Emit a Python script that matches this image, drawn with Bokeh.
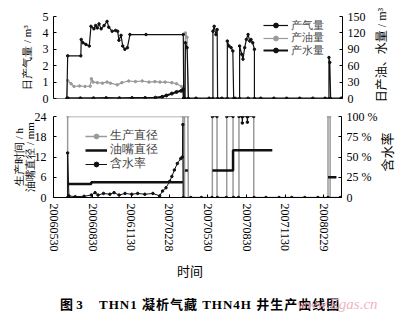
import pandas as pd
from bokeh.plotting import figure
from bokeh.layouts import column, row
from bokeh.models import (Range1d, LinearAxis, FixedTicker, Span, Legend, Div,
                          LegendItem, DatetimeTickFormatter, ColumnDataSource)
from bokeh.embed import file_html
from bokeh.resources import INLINE

NaN = float("nan")

# ---------------- data: top panel ----------------
gas_date = ["2006-06-30", "2006-07-02", "2006-08-02", "2006-08-03", "2006-08-07", "2006-08-14", "2006-08-22", "2006-08-26",
            "2006-09-02", "2006-09-06", "2006-09-10", "2006-09-14", "2006-09-19", "2006-09-26", "2006-10-03", "2006-10-07", "2006-10-15",
            "2006-10-23", "2006-10-28", "2006-10-31", "2006-11-05", "2006-11-09", "2006-11-14", "2006-11-20", "2006-11-26", "2007-01-03", "2007-04-01",
            "2007-04-02", "2007-04-05", "2007-04-06", "2007-04-10", "2007-04-13",
            "2007-06-10", "2007-06-10", "2007-06-13", "2007-06-17", "2007-06-20", "2007-06-21",
            "2007-07-14", "2007-07-14", "2007-07-18", "2007-07-23", "2007-07-27", "2007-07-29",
            "2007-08-12", "2007-08-12", "2007-08-17", "2007-08-20", "2007-08-24", "2007-08-28", "2007-09-01", "2007-09-05", "2007-09-08", "2007-09-12", "2007-09-16", "2007-09-16",
            "2008-03-10", "2008-03-10", "2008-03-12", "2008-03-14", "2008-04-08"]
gas_val = [0, 2.6, 2.6, 3.6, 3.4, 3.3, 3.2, 4.4,
           4.25, 4.45, 4.3, 4.55, 4.25, 4.45, 4.7, 4.35, 4.1,
           4.15, 4.1, 3.55, 3.85, 3.2, 3.0, 3.1, 3.9, 3.9, 3.9,
           0, 0, 3.4, 3.1, 0,
           0, 4.1, 4.4, 3.9, 4.2, 0,
           0, 3.5, 3.2, 3.1, 2.9, 0,
           0, 3.2, 2.7, 2.4, 3.1, 3.6, 3.9, 3.5, 3.6, 3.4, 3.0, 0,
           0, 2.5, 2.2, 0, 0]

oil_date = ["2006-06-30", "2006-07-02", "2006-07-10", "2006-07-17", "2006-07-30", "2006-08-12", "2006-08-24", "2006-08-27", "2006-08-31",
            "2006-09-10", "2006-09-22", "2006-10-03", "2006-10-11", "2006-10-27", "2006-11-07", "2006-11-23", "2006-12-09", "2006-12-25",
            "2007-01-10", "2007-01-24", "2007-02-05", "2007-02-17", "2007-03-05", "2007-03-16", "2007-03-28", "2007-04-01", "2007-04-02",
            "2007-04-05", "2007-04-06", "2007-04-10", "2007-04-13"]
oil_val = [0, 33, 27, 22, 23, 22, 22.5, 36, 30,
           29, 28, 30, 28, 25, 29, 32, 31, 32,
           30, 31, 30, 30, 29, 27, 22, 20, 0,
           0, 120, 112, 0]

water_date = ["2006-07-02", "2006-08-01", "2006-09-01", "2006-10-01", "2006-11-01", "2006-12-01", "2007-01-01", "2007-01-25",
              "2007-02-10", "2007-02-20", "2007-03-05", "2007-03-16", "2007-03-27", "2007-04-01", "2007-04-02",
              "2007-05-01", "2007-06-01", "2007-07-01", "2007-08-01", "2007-09-01", "2007-10-01", "2007-11-01",
              "2007-12-01", "2008-01-01", "2008-02-01", "2008-03-01", "2008-04-08"]
water_val = [0.5, 0.3, 0.5, 0.8, 0.6, 0.8, 1.0, 1.5,
             3, 5.5, 9, 12, 14, 17, 0,
             0, 0, 0, 0, 0, 0, 0,
             0, 0, 0, 0, 0]

# ---------------- data: bottom panel ----------------
ptime_date = ["2006-07-02", "2006-07-02", "2007-04-01", "2007-04-02", "2007-04-05", "2007-04-05", "2007-04-13", "2007-04-14",
              "2007-06-10", "2007-06-10", "2007-06-21", "2007-06-21", "2007-07-14", "2007-07-14", "2007-07-29", "2007-07-29",
              "2007-08-12", "2007-08-12", "2007-09-16", "2007-09-16", "2008-03-10", "2008-03-10", "2008-03-15", "2008-03-15", "2008-04-08"]
ptime_val = [0, 24, 24, 0, 0, 24, 24, 0,
             0, 24, 24, 0, 0, 24, 24, 0,
             0, 24, 24, 0, 0, 24, 24, 0, 0]

choke_date = ["2006-07-02", "2006-08-27", "2006-08-27", "2007-04-01", "2007-04-02",
              "2007-04-06", "2007-04-13", "2007-04-14",
              "2007-06-10", "2007-07-29", "2007-07-29", "2007-10-30", "2007-10-31",
              "2008-03-10", "2008-03-30"]
choke_val = [4, 4, 4.5, 4.5, NaN,
             8, 8, NaN,
             8, 8, 14, 14, NaN,
             6, 6]

wcut_date = ["2006-07-02", "2006-07-02", "2006-07-05", "2006-07-20", "2006-08-10", "2006-08-27", "2006-09-05", "2006-09-12", "2006-09-25",
             "2006-10-10", "2006-10-20", "2006-11-01", "2006-11-15", "2006-12-01", "2006-12-15", "2007-01-01", "2007-01-20",
             "2007-02-05", "2007-02-12", "2007-02-20", "2007-03-01", "2007-03-06", "2007-03-12", "2007-03-19", "2007-03-27",
             "2007-03-31", "2007-04-01", "2007-04-02", "2007-04-20", "2007-05-15", "2007-06-09",
             "2007-06-10", "2007-06-10", "2007-06-21",
             "2007-06-22", "2007-06-22", "2007-07-13",
             "2007-07-14", "2007-07-14", "2007-07-29",
             "2007-07-30", "2007-07-30", "2007-08-11",
             "2007-08-12", "2007-08-12", "2007-08-19", "2007-08-20", "2007-08-21", "2007-08-31", "2007-09-01", "2007-09-02", "2007-09-16",
             "2007-09-17", "2007-09-17", "2007-10-15", "2007-11-15", "2007-12-15", "2008-01-15", "2008-02-15", "2008-03-10", "2008-04-08"]
wcut_val = [0, 55, 2, 1, 1.5, 3, 6, 3, 5,
            4, 6, 3, 5, 4, 5, 4, 5,
            2, 8, 12, 20, 26, 34, 42, 48,
            50, 90, 0, 0, 0, 0,
            NaN, 100, 100,
            NaN, 0, 0,
            NaN, 100, 100,
            NaN, 0, 0,
            NaN, 100, 100, 92, 100, 100, 93, 100, 100,
            NaN, 0, 0, 0, 0, 0, 0, 0, 0]

x_tick_dates = ["2006-05-30", "2006-08-30", "2006-11-30", "2007-02-28",
                "2007-05-30", "2007-08-30", "2007-11-30", "2008-02-29"]
left_top_ticks = [0, 1, 2, 3, 4, 5]
right_top_ticks = [0, 30, 60, 90, 120, 150]
left_bot_ticks = [0, 6, 12, 18, 24]
right_bot_ticks = [0, 25, 50, 75, 100]
right_bot_labels = ["0", "25 %", "50 %", "75 %", "100 %"]

# ---------------- helpers ----------------
NUM = "Liberation Serif"
SERIF_CJK = "'Liberation Serif','Noto Sans CJK SC',serif"
GRAY = "#9a9a9a"
BLACK = "#111111"
X0 = pd.Timestamp("2006-05-29 12:00")
X1 = pd.Timestamp("2008-04-11")
FL, FR = 53, 342


def ms(t):
    return pd.Timestamp(t).value / 1e6


def style_axis(ax, label=None, standoff=5, size="12px", line_height=None, tick_standoff=4):
    ax.axis_line_color = "black"
    ax.axis_line_width = 1
    ax.major_tick_in = 3
    ax.major_tick_out = 0
    ax.major_tick_line_color = "black"
    ax.minor_tick_line_color = None
    ax.major_label_text_font = NUM
    ax.major_label_text_font_size = "12px"
    ax.major_label_text_color = "black"
    ax.major_label_standoff = tick_standoff
    if label is not None:
        ax.axis_label = label
        ax.axis_label_text_font = NUM
        ax.axis_label_text_font_size = size
        ax.axis_label_text_font_style = "normal"
        ax.axis_label_text_color = "black"
        ax.axis_label_standoff = standoff
        if line_height is not None:
            ax.axis_label_text_line_height = line_height


def one_legend(p, label, renderers, x, y, glyph_w, size):
    lg = Legend(items=[LegendItem(label=label, renderers=renderers)], location=(x, y))
    lg.label_text_font = NUM
    lg.label_text_font_size = size
    lg.glyph_width = glyph_w
    lg.glyph_height = 12
    lg.label_height = 12
    lg.spacing = 0
    lg.padding = 0
    lg.margin = 0
    lg.label_standoff = 3
    lg.background_fill_alpha = 0
    lg.border_line_color = None
    p.add_layout(lg)


def vertical_div(text, w, h, cx, cy, size):
    html = ('<div style="position:relative;width:%dpx;height:%dpx;">'
            '<span style="position:absolute;left:%dpx;top:%dpx;transform:translate(-50%%,-50%%) rotate(-90deg);'
            'white-space:nowrap;font-size:%dpx;line-height:%dpx;font-family:%s;color:#000;">%s</span></div>'
            % (w, h, cx, cy, size, size + 2, SERIF_CJK, text))
    return Div(text=html, width=w, height=h, margin=0)


xr = Range1d(start=X0, end=X1)

# ---------------- top figure ----------------
TOP_W = 372
top = figure(width=TOP_W, height=106, x_axis_type="datetime", x_range=xr, y_range=Range1d(0, 5),
             output_backend="svg", toolbar_location=None, x_axis_location=None,
             min_border_left=FL, min_border_right=TOP_W - FR, min_border_top=16, min_border_bottom=8)
top.outline_line_color = None
top.grid.visible = False
top.extra_y_ranges = {"r": Range1d(0, 150)}
top.yaxis.ticker = FixedTicker(ticks=left_top_ticks)
style_axis(top.yaxis[0], "日产气量 / m³", standoff=7, size="11px", tick_standoff=5)
rax = LinearAxis(y_range_name="r", ticker=FixedTicker(ticks=right_top_ticks))
style_axis(rax, tick_standoff=5)
top.add_layout(rax, "right")
top.add_layout(Span(location=0, dimension="width", line_color="black", line_width=1))

gas_src = ColumnDataSource(dict(x=pd.to_datetime(gas_date), y=gas_val))
oil_src = ColumnDataSource(dict(x=pd.to_datetime(oil_date), y=oil_val))
wat_src = ColumnDataSource(dict(x=pd.to_datetime(water_date), y=water_val))

ol = top.line("x", "y", source=oil_src, y_range_name="r", line_color=GRAY, line_width=1.2)
os_ = top.scatter("x", "y", source=oil_src, y_range_name="r", size=2.5, color=GRAY)
gl = top.line("x", "y", source=gas_src, line_color=BLACK, line_width=1.2)
gs = top.scatter("x", "y", source=gas_src, size=2.5, color=BLACK)
wl = top.line("x", "y", source=wat_src, y_range_name="r", line_color=BLACK, line_width=2)
ws = top.scatter("x", "y", source=wat_src, y_range_name="r", size=3, color=BLACK)

one_legend(top, "产气量", [gl, gs], 210, 65.5, 25, "11px")
one_legend(top, "产油量", [ol, os_], 210, 53, 25, "11px")
one_legend(top, "产水量", [wl, ws], 210, 40.5, 25, "11px")

top_right = vertical_div("日产油、水量 / m³", 400 - TOP_W, 106, 382 - TOP_W, 55, 12)

# ---------------- bottom figure ----------------
BOT_W = 380
bot = figure(width=BOT_W, height=156, x_axis_type="datetime", x_range=xr, y_range=Range1d(0, 24),
             output_backend="svg", toolbar_location=None,
             min_border_left=FL, min_border_right=BOT_W - FR, min_border_top=10, min_border_bottom=65)
bot.outline_line_color = None
bot.grid.visible = False
bot.extra_y_ranges = {"r": Range1d(0, 100)}
bot.yaxis.ticker = FixedTicker(ticks=left_bot_ticks)
style_axis(bot.yaxis[0], "生产时间 / h\n油嘴直径 / mm", standoff=-4, size="11px", line_height=0.9, tick_standoff=7)
rax2 = LinearAxis(y_range_name="r", ticker=FixedTicker(ticks=right_bot_ticks),
                  major_label_overrides={t: l for t, l in zip(right_bot_ticks, right_bot_labels)})
style_axis(rax2, tick_standoff=5)
bot.add_layout(rax2, "right")
xa = bot.xaxis[0]
style_axis(xa, tick_standoff=6)
xa.ticker = FixedTicker(ticks=[ms(d) for d in x_tick_dates])
fmt = "%Y%m%d"
xa.formatter = DatetimeTickFormatter(microseconds=fmt, milliseconds=fmt, seconds=fmt, minsec=fmt,
                                     minutes=fmt, hourmin=fmt, hours=fmt, days=fmt, months=fmt, years=fmt)
xa.major_label_orientation = "vertical"

pt_src = ColumnDataSource(dict(x=pd.to_datetime(ptime_date), y=ptime_val))
ch_src = ColumnDataSource(dict(x=pd.to_datetime(choke_date), y=choke_val))
wc_src = ColumnDataSource(dict(x=pd.to_datetime(wcut_date), y=wcut_val))

pl = bot.line("x", "y", source=pt_src, line_color=GRAY, line_width=1.5)
ps = bot.scatter("x", "y", source=pt_src, size=2, color=GRAY)
cl = bot.line("x", "y", source=ch_src, line_color=BLACK, line_width=2.5)
wcl = bot.line("x", "y", source=wc_src, y_range_name="r", line_color=BLACK, line_width=1)
wcs = bot.scatter("x", "y", source=wc_src, y_range_name="r", size=2.5, color=BLACK)

one_legend(bot, "生产直径", [pl, ps], 32, 53, 22, "12px")
one_legend(bot, "油嘴直径", [cl], 32, 39, 22, "12px")
one_legend(bot, "含水率", [wcl, wcs], 32, 25, 22, "12px")

bot_right = vertical_div("含水率", 400 - BOT_W, 156, 387 - BOT_W, 46, 13)

# ---------------- axis title and caption below ----------------
html = (
    '<div style="position:relative;width:400px;height:54px;overflow:hidden;">'
    '<span style="position:absolute;left:177px;top:2px;font-size:13px;line-height:16px;'
    f'font-family:{SERIF_CJK};color:#000;">时间</span>'
    '<span style="position:absolute;left:60px;top:35px;font-size:13px;line-height:16px;font-weight:bold;'
    f'font-family:{SERIF_CJK};color:#000;white-space:pre;">图 3</span>'
    '<span style="position:absolute;left:99px;top:35px;font-size:13px;line-height:16px;font-weight:bold;'
    f'letter-spacing:1px;font-family:{SERIF_CJK};color:#000;white-space:pre;">THN1 凝析气藏 THN4H 井生产曲线图</span>'
    '<span style="position:absolute;left:297px;top:34px;font-size:15px;line-height:16px;font-style:italic;'
    "font-family:'Liberation Serif',serif;color:#f2b3c0;white-space:pre;\">www.Egas.cn</span>"
    '</div>'
)
cap = Div(text=html, width=400, height=54, margin=0)

layout = column(row(top, top_right, spacing=0), row(bot, bot_right, spacing=0), cap, spacing=0)
open("out.html", "w").write(file_html(layout, INLINE))
